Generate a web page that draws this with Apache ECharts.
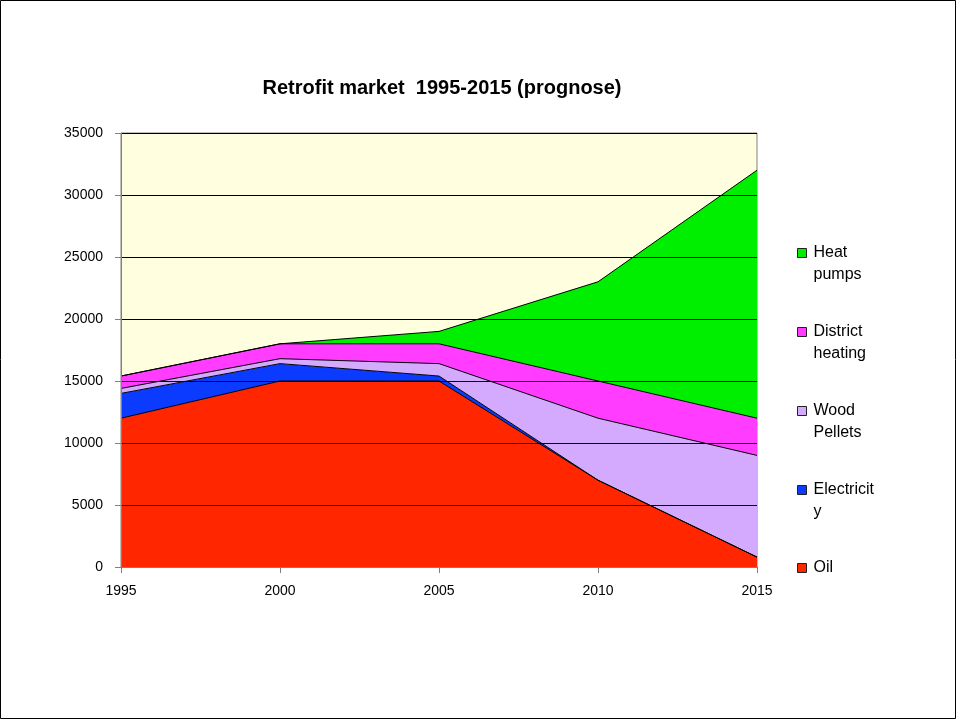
<!DOCTYPE html>
<html>
<head>
<meta charset="utf-8">
<script src="https://cdn.jsdelivr.net/npm/echarts@6/dist/echarts.min.js"></script>
<style>html,body{margin:0;padding:0;background:#fff}#c{width:957px;height:720px}</style>
</head>
<body>
<div id="c"></div>
<script>
const years = ['1995', '2000', '2005', '2010', '2015'];
const oil = [12000, 15000, 15000, 7000, 800];
const electricity = [2000, 1400, 400, 0, 0];
const woodPellets = [400, 400, 1000, 5000, 8200];
const districtHeating = [1000, 1200, 1600, 3000, 3000];
const heatPumps = [0, 0, 1000, 8000, 20000];
const yTicks = { min: 0, max: 35000, interval: 5000 };

const names = ['Oil', 'Electricity', 'Wood Pellets', 'District heating', 'Heat pumps'];
const labels = {
  'Oil': 'Oil',
  'Electricity': ' \nElectricit\ny',
  'Wood Pellets': ' \nWood\nPellets',
  'District heating': ' \nDistrict\nheating',
  'Heat pumps': ' \nHeat\npumps'
};
const colors = ['#FF2600', '#0A3BFF', '#D4AAFF', '#FF3CFF', '#00EE00'];
const datas = [oil, electricity, woodPellets, districtHeating, heatPumps];
const legendTops = { 'Heat pumps': 220, 'District heating': 299, 'Wood Pellets': 378, 'Electricity': 457, 'Oil': 557 };

const series = names.map((n, i) => ({
  name: n,
  type: 'line',
  stack: 'total',
  data: datas[i],
  showSymbol: false,
  symbol: 'none',
  color: colors[i],
  lineStyle: { color: '#000', width: 1 },
  areaStyle: { color: colors[i], opacity: 1 },
  itemStyle: { color: colors[i], borderColor: '#000' },
  emphasis: { disabled: true },
  z: 2
}));

const legends = names.map((n) => ({
  data: [{ name: n, icon: 'rect' }],
  left: 797,
  top: legendTops[n],
  padding: 0,
  itemWidth: 9,
  itemHeight: 9,
  itemGap: 0,
  selectedMode: false,
  itemStyle: { borderColor: '#222', borderWidth: 1 },
  formatter: (name) => labels[name],
  textStyle: {
    fontFamily: 'Liberation Sans, Arial, sans-serif',
    fontSize: 16,
    color: '#000',
    lineHeight: 22,
    padding: [0, 0, 0, 2]
  }
}));

const chart = echarts.init(document.getElementById('c'), null, { renderer: 'canvas' });
chart.setOption({
  animation: false,
  backgroundColor: '#fff',
  title: {
    text: 'Retrofit market  1995-2015 (prognose)',
    left: 442,
    textAlign: 'center',
    top: 78,
    padding: 0,
    textStyle: { fontFamily: 'Liberation Sans, Arial, sans-serif', fontSize: 20, fontWeight: 'bold', color: '#000' }
  },
  legend: legends,
  grid: {
    left: 121, right: 200, top: 133, bottom: 153,
    show: true, backgroundColor: '#FFFFE0', borderColor: '#808080', borderWidth: 1,
    containLabel: false
  },
  xAxis: {
    type: 'category',
    data: years,
    boundaryGap: false,
    axisLine: { lineStyle: { color: '#808080', width: 1 } },
    axisTick: { show: true, alignWithLabel: true, length: 6, lineStyle: { color: '#808080' } },
    axisLabel: { color: '#000', fontSize: 14, fontFamily: 'Liberation Sans, Arial, sans-serif', margin: 17 },
    splitLine: { show: false },
    z: 5
  },
  yAxis: {
    type: 'value',
    min: yTicks.min, max: yTicks.max, interval: yTicks.interval,
    axisLine: { show: true, lineStyle: { color: '#808080', width: 1 } },
    axisTick: { show: true, length: 6, lineStyle: { color: '#808080' } },
    axisLabel: { color: '#000', fontSize: 14, fontFamily: 'Liberation Sans, Arial, sans-serif', margin: 18, formatter: (v) => String(v) },
    splitLine: { show: true, lineStyle: { color: '#000', width: 1 } },
    z: 5
  },
  graphic: [{
    type: 'rect', shape: { x: 0.5, y: 0.5, width: 955, height: 718 },
    style: { fill: 'none', stroke: '#000', lineWidth: 1 }, silent: true, z: 100
  }],
  series: series
});
</script>
</body>
</html>
